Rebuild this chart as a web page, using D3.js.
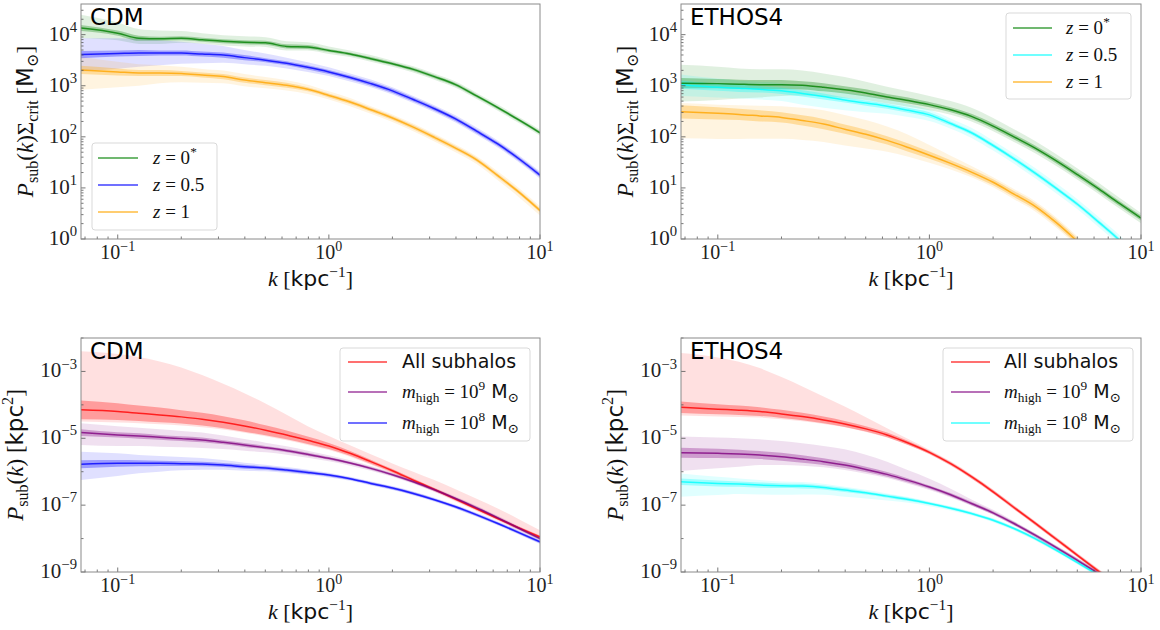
<!DOCTYPE html>
<html><head><meta charset="utf-8">
<script src="https://cdn.jsdelivr.net/npm/d3@7"></script>
<style>body{margin:0;background:#fff}svg{display:block}</style>
</head><body>
<svg id="c" width="1160" height="630"></svg>
<script>
// ---------- DATA ----------
const kValues = [0.067,0.1,0.126,0.158,0.2,0.251,0.316,0.398,0.501,0.631,0.794,1.0,1.26,1.58,2.0,2.51,3.16,3.98,5.01,6.31,7.94,10.0];
const xTicks = [0.1,1,10];
const xTickLabels = ["−1","0","1"];
const topYTicks = [1,10,100,1000,10000];
const topYTickLabels = ["0","1","2","3","4"];
const botYTicks = [1e-9,1e-7,1e-5,1e-3];
const botYTickLabels = ["−9","−7","−5","−3"];
const botYMinor = [1e-8,1e-6,1e-4,1e-2];

// top-left: CDM, P_sub * Sigma_crit [Msun]
const cdmZ0  = [13500,10700,8500,8300,8500,7940,7410,7080,6920,5890,5750,4900,4170,3390,2690,2090,1510,1050,631,372,214,120];
const cdmZ0_in = [0.06,0.05,0.05,0.04,0.04,0.04,0.04,0.04,0.04,0.04,0.04,0.03,0.03,0.03,0.03,0.03,0.03,0.03,0.03,0.03,0.03,0.03];
const cdmZ0_up = [0.26,0.21,0.18,0.16,0.14,0.13,0.12,0.12,0.11,0.10,0.09,0.08,0.07,0.07,0.06,0.06,0.06,0.06,0.06,0.06,0.06,0.06];
const cdmZ0_dn = [0.20,0.14,0.11,0.10,0.09,0.08,0.08,0.08,0.08,0.08,0.07,0.07,0.06,0.06,0.06,0.06,0.06,0.06,0.06,0.06,0.06,0.06];
const cdmZ05 = [4070,4270,4370,4370,4370,4170,3980,3550,3160,2750,2290,1860,1450,1100,794,537,355,224,129,72.4,37.2,17.8];
const cdmZ05_in = [0.07,0.06,0.06,0.05,0.05,0.05,0.05,0.05,0.04,0.04,0.04,0.04,0.04,0.04,0.04,0.04,0.04,0.04,0.04,0.04,0.04,0.04];
const cdmZ05_up = [0.32,0.30,0.28,0.25,0.22,0.20,0.18,0.15,0.13,0.11,0.10,0.09,0.08,0.08,0.07,0.07,0.07,0.07,0.07,0.07,0.07,0.07];
const cdmZ05_dn = [0.33,0.30,0.27,0.24,0.21,0.18,0.15,0.13,0.11,0.10,0.09,0.08,0.08,0.07,0.07,0.07,0.07,0.07,0.07,0.07,0.07,0.07];
const cdmZ1  = [2040,1860,1780,1780,1740,1620,1510,1290,1150,1020,851,646,479,339,234,155,97.7,60.3,35.5,17.4,8.3,3.63];
const cdmZ1_in = [0.08,0.07,0.06,0.06,0.05,0.05,0.05,0.05,0.05,0.05,0.04,0.04,0.04,0.04,0.04,0.04,0.04,0.04,0.04,0.04,0.04,0.04];
const cdmZ1_up = [0.26,0.20,0.17,0.15,0.13,0.12,0.12,0.12,0.11,0.10,0.09,0.08,0.08,0.07,0.07,0.07,0.07,0.07,0.07,0.08,0.08,0.08];
const cdmZ1_dn = [0.39,0.30,0.25,0.20,0.17,0.15,0.13,0.12,0.11,0.10,0.09,0.08,0.08,0.08,0.08,0.08,0.08,0.08,0.08,0.09,0.10,0.10];

// top-right: ETHOS4
const ethZ0  = [1120,1100,1070,1050,1050,1020,933,832,724,603,513,427,339,251,162,100,60.3,33.9,18.2,9.55,4.90,2.57];
const ethZ0_in = [0.10,0.09,0.09,0.09,0.09,0.08,0.08,0.07,0.07,0.06,0.06,0.05,0.05,0.05,0.05,0.05,0.05,0.05,0.05,0.05,0.05,0.05];
const ethZ0_up = [0.36,0.33,0.31,0.30,0.30,0.29,0.27,0.25,0.22,0.20,0.18,0.17,0.17,0.17,0.16,0.15,0.14,0.13,0.12,0.12,0.11,0.10];
const ethZ0_dn = [0.36,0.32,0.28,0.25,0.22,0.20,0.18,0.16,0.14,0.13,0.12,0.11,0.10,0.10,0.10,0.10,0.10,0.10,0.10,0.10,0.10,0.10];
const ethZ05 = [1050,933,891,851,794,708,617,525,457,398,331,269,182,120,67.6,37.2,19.5,9.77,4.79,2.14,0.933,0.355];
const ethZ05_in = [0.08,0.07,0.07,0.06,0.06,0.06,0.06,0.05,0.05,0.05,0.05,0.05,0.04,0.04,0.04,0.04,0.04,0.04,0.04,0.04,0.04,0.04];
const ethZ05_up = [0.20,0.17,0.15,0.15,0.15,0.15,0.15,0.15,0.15,0.13,0.12,0.10,0.10,0.10,0.10,0.10,0.10,0.10,0.10,0.10,0.10,0.10];
const ethZ05_dn = [0.22,0.20,0.20,0.20,0.20,0.22,0.22,0.20,0.18,0.15,0.13,0.12,0.10,0.10,0.10,0.10,0.10,0.10,0.10,0.10,0.10,0.10];
const ethZ1  = [309,288,275,257,240,209,178,141,112,85.1,61.7,43.7,30.2,20.4,12.9,7.59,4.37,2.09,0.891,0.355,0.141,0.0562];
const ethZ1_in = [0.13,0.12,0.11,0.11,0.10,0.10,0.10,0.09,0.09,0.08,0.08,0.07,0.06,0.06,0.06,0.06,0.06,0.06,0.06,0.06,0.06,0.06];
const ethZ1_up = [0.17,0.17,0.18,0.20,0.22,0.25,0.27,0.28,0.28,0.27,0.25,0.20,0.15,0.12,0.10,0.10,0.10,0.10,0.10,0.10,0.10,0.10];
const ethZ1_dn = [0.52,0.50,0.48,0.45,0.42,0.38,0.35,0.32,0.28,0.22,0.18,0.15,0.12,0.10,0.10,0.10,0.10,0.10,0.10,0.10,0.10,0.10];

// bottom-left: CDM, P_sub [kpc^2]
const cdmAll = [7.08e-5,6.31e-5,5.62e-5,5.01e-5,4.37e-5,3.72e-5,3.02e-5,2.34e-5,1.74e-5,1.26e-5,8.71e-6,5.89e-6,3.55e-6,2.0e-6,1.07e-6,5.62e-7,2.95e-7,1.51e-7,7.76e-8,3.98e-8,2.09e-8,1.12e-8];
const cdmAll_in = [0.28,0.25,0.23,0.22,0.20,0.19,0.18,0.17,0.15,0.13,0.11,0.09,0.07,0.06,0.05,0.05,0.04,0.04,0.04,0.04,0.04,0.04];
const cdmAll_up = [1.75,1.72,1.68,1.60,1.48,1.32,1.15,0.98,0.80,0.60,0.42,0.30,0.24,0.22,0.22,0.25,0.28,0.30,0.30,0.30,0.26,0.20];
const cdmAll_dn = [0.35,0.33,0.30,0.28,0.26,0.24,0.22,0.20,0.18,0.16,0.14,0.12,0.10,0.09,0.08,0.08,0.07,0.07,0.07,0.07,0.07,0.07];
const cdm1e9 = [1.48e-5,1.26e-5,1.17e-5,1.07e-5,9.77e-6,8.91e-6,7.59e-6,6.31e-6,5.25e-6,4.27e-6,3.31e-6,2.51e-6,1.82e-6,1.26e-6,8.13e-7,5.01e-7,2.88e-7,1.58e-7,8.32e-8,4.17e-8,2.04e-8,1.0e-8];
const cdm1e9_in = [0.10,0.08,0.08,0.07,0.07,0.07,0.06,0.06,0.05,0.05,0.05,0.04,0.04,0.04,0.04,0.04,0.04,0.04,0.04,0.04,0.04,0.04];
const cdm1e9_up = [0.28,0.26,0.25,0.24,0.23,0.22,0.20,0.18,0.15,0.13,0.11,0.09,0.08,0.07,0.06,0.06,0.06,0.06,0.06,0.06,0.06,0.06];
const cdm1e9_dn = [0.37,0.33,0.30,0.28,0.26,0.24,0.20,0.17,0.14,0.12,0.10,0.09,0.08,0.07,0.06,0.06,0.06,0.06,0.06,0.06,0.06,0.06];
const cdm1e8 = [1.66e-6,1.78e-6,1.78e-6,1.78e-6,1.74e-6,1.70e-6,1.58e-6,1.41e-6,1.29e-6,1.12e-6,9.55e-7,7.94e-7,6.17e-7,4.47e-7,3.24e-7,2.24e-7,1.45e-7,8.91e-8,5.13e-8,2.82e-8,1.51e-8,7.94e-9];
const cdm1e8_in = [0.12,0.10,0.09,0.08,0.07,0.07,0.06,0.06,0.05,0.05,0.05,0.04,0.04,0.04,0.04,0.04,0.04,0.04,0.04,0.04,0.04,0.04];
const cdm1e8_up = [0.38,0.30,0.25,0.22,0.20,0.18,0.15,0.12,0.10,0.09,0.08,0.07,0.06,0.06,0.06,0.06,0.06,0.06,0.06,0.06,0.06,0.06];
const cdm1e8_dn = [0.47,0.38,0.30,0.25,0.20,0.17,0.14,0.12,0.10,0.09,0.08,0.07,0.06,0.06,0.06,0.06,0.06,0.06,0.06,0.06,0.06,0.06];

// bottom-right: ETHOS4, P_sub [kpc^2]
const ethAll = [8.51e-5,7.41e-5,6.92e-5,6.31e-5,5.37e-5,4.47e-5,3.55e-5,2.69e-5,1.91e-5,1.26e-5,7.24e-6,3.80e-6,1.74e-6,7.08e-7,2.51e-7,8.51e-8,2.88e-8,9.55e-9,3.16e-9,1.05e-9,3.55e-10,1.26e-10];
const ethAll_in = [0.17,0.15,0.14,0.13,0.12,0.11,0.10,0.09,0.08,0.07,0.06,0.05,0.05,0.05,0.05,0.05,0.05,0.05,0.05,0.05,0.05,0.05];
const ethAll_up = [1.62,1.55,1.45,1.30,1.10,0.90,0.70,0.52,0.35,0.20,0.12,0.08,0.07,0.07,0.07,0.07,0.07,0.07,0.07,0.07,0.07,0.07];
const ethAll_dn = [0.25,0.22,0.20,0.18,0.16,0.14,0.12,0.10,0.09,0.08,0.07,0.06,0.06,0.06,0.06,0.06,0.06,0.06,0.06,0.06,0.06,0.06];
const eth1e9 = [3.72e-6,3.55e-6,3.39e-6,3.16e-6,2.82e-6,2.40e-6,2.0e-6,1.58e-6,1.17e-6,8.32e-7,5.50e-7,3.47e-7,2.04e-7,1.12e-7,5.89e-8,2.82e-8,1.26e-8,5.37e-9,2.24e-9,8.91e-10,3.55e-10,1.41e-10];
const eth1e9_in = [0.15,0.14,0.13,0.12,0.12,0.11,0.10,0.09,0.08,0.07,0.06,0.05,0.05,0.05,0.05,0.05,0.05,0.05,0.05,0.05,0.05,0.05];
const eth1e9_up = [0.48,0.47,0.47,0.47,0.47,0.47,0.47,0.47,0.44,0.38,0.30,0.25,0.18,0.12,0.09,0.07,0.06,0.06,0.06,0.06,0.06,0.06];
const eth1e9_dn = [0.55,0.45,0.38,0.30,0.25,0.20,0.17,0.15,0.13,0.11,0.10,0.09,0.08,0.07,0.06,0.06,0.06,0.06,0.06,0.06,0.06,0.06];
const eth1e8 = [5.01e-7,4.47e-7,4.27e-7,3.98e-7,3.80e-7,3.72e-7,3.39e-7,2.82e-7,2.34e-7,1.86e-7,1.48e-7,1.12e-7,8.13e-8,5.62e-8,3.55e-8,2.0e-8,1.0e-8,4.47e-9,1.91e-9,7.94e-10,3.16e-10,1.26e-10];
const eth1e8_in = [0.10,0.09,0.08,0.08,0.07,0.07,0.06,0.06,0.05,0.05,0.05,0.04,0.04,0.04,0.04,0.04,0.04,0.04,0.04,0.04,0.04,0.04];
const eth1e8_up = [0.25,0.20,0.17,0.15,0.13,0.12,0.11,0.10,0.09,0.08,0.07,0.06,0.06,0.06,0.06,0.06,0.06,0.06,0.06,0.06,0.06,0.06];
const eth1e8_dn = [0.45,0.35,0.30,0.28,0.27,0.25,0.22,0.20,0.17,0.13,0.10,0.08,0.07,0.06,0.06,0.06,0.06,0.06,0.06,0.06,0.06,0.06];

// ---------- DRAWING ----------
const SERIF = "'Liberation Serif','DejaVu Serif',serif";
const SANS = "'DejaVu Sans','Open Sans',sans-serif";
const svg = d3.select("#c");

const zLabels = [
  [{t:"z",i:1},{t:" = 0"},{t:"*",sup:1}],
  [{t:"z",i:1},{t:" = 0.5"}],
  [{t:"z",i:1},{t:" = 1"}]
];
const mLabels = [
  [{t:"All subhalos",sans:1}],
  [{t:"m",i:1},{t:"high",sub:1},{t:" = 10"},{t:"9",sup:1},{t:" M",sans:1},{t:"⊙",sub:1}],
  [{t:"m",i:1},{t:"high",sub:1},{t:" = 10"},{t:"8",sup:1},{t:" M",sans:1},{t:"⊙",sub:1}]
];

const panels = [
  {x:81,y:4,w:459,h:235,yDom:[1,10**4.6],title:"CDM",ylab:"top",yTicks:topYTicks,yTickLab:topYTickLabels,yMinorSub:true,
   series:[{v:cdmZ0,i:cdmZ0_in,u:cdmZ0_up,d:cdmZ0_dn,c:"green"},{v:cdmZ05,i:cdmZ05_in,u:cdmZ05_up,d:cdmZ05_dn,c:"blue"},{v:cdmZ1,i:cdmZ1_in,u:cdmZ1_up,d:cdmZ1_dn,c:"orange"}],
   leg:{x0:92,y0:143,x1:217,y1:230,rows:[158,185,212],lx0:98,lx1:138,tx:153,labels:zLabels,fs:19}},
  {x:681,y:4,w:460,h:235,yDom:[1,10**4.6],title:"ETHOS4",ylab:"top",yTicks:topYTicks,yTickLab:topYTickLabels,yMinorSub:true,
   series:[{v:ethZ0,i:ethZ0_in,u:ethZ0_up,d:ethZ0_dn,c:"green"},{v:ethZ05,i:ethZ05_in,u:ethZ05_up,d:ethZ05_dn,c:"cyan"},{v:ethZ1,i:ethZ1_in,u:ethZ1_up,d:ethZ1_dn,c:"orange"}],
   leg:{x0:1006,y0:13,x1:1131,y1:99,rows:[28,55,82],lx0:1013,lx1:1052,tx:1066,labels:zLabels,fs:19}},
  {x:81,y:338,w:459,h:234,yDom:[1e-9,1e-2],title:"CDM",ylab:"bot",yTicks:botYTicks,yTickLab:botYTickLabels,yMinorSub:false,
   series:[{v:cdmAll,i:cdmAll_in,u:cdmAll_up,d:cdmAll_dn,c:"red"},{v:cdm1e9,i:cdm1e9_in,u:cdm1e9_up,d:cdm1e9_dn,c:"purple"},{v:cdm1e8,i:cdm1e8_in,u:cdm1e8_up,d:cdm1e8_dn,c:"blue"}],
   leg:{x0:340,y0:348,x1:530,y1:441,rows:[362,392,423],lx0:348,lx1:387,tx:402,labels:mLabels,fs:19}},
  {x:681,y:338,w:460,h:234,yDom:[1e-9,1e-2],title:"ETHOS4",ylab:"bot",yTicks:botYTicks,yTickLab:botYTickLabels,yMinorSub:false,
   series:[{v:ethAll,i:ethAll_in,u:ethAll_up,d:ethAll_dn,c:"red"},{v:eth1e9,i:eth1e9_in,u:eth1e9_up,d:eth1e9_dn,c:"purple"},{v:eth1e8,i:eth1e8_in,u:eth1e8_up,d:eth1e8_dn,c:"cyan"}],
   leg:{x0:943,y0:348,x1:1133,y1:441,rows:[362,392,423],lx0:951,lx1:990,tx:1004,labels:mLabels,fs:19}}
];

function richText(sel, parts, fs){
  let shift = 0;
  parts.forEach(p=>{
    const ts = sel.append("tspan").text(p.t);
    let target = 0, size = fs;
    if(p.sup){target=-0.42*fs; size=0.7*fs;}
    if(p.sub){target=0.22*fs; size=0.7*fs;}
    ts.attr("dy", target-shift).attr("font-size", size);
    shift = target;
    if(p.i) ts.attr("font-style","italic");
    if(p.sans) ts.attr("font-family", SANS);
  });
}

panels.forEach((P,pi)=>{
  const g = svg.append("g").attr("transform",`translate(${P.x},${P.y})`);
  const x = d3.scaleLog().domain([0.067,10]).range([0,P.w]);
  const y = d3.scaleLog().domain(P.yDom).range([P.h,0]);
  const cid = "clip"+pi;
  g.append("clipPath").attr("id",cid).append("rect").attr("width",P.w).attr("height",P.h);
  const plot = g.append("g").attr("clip-path",`url(#${cid})`);

  const idx = d3.range(kValues.length);
  P.series.forEach(s=>{
    const outer = d3.area().curve(d3.curveMonotoneX)
      .x(i=>x(kValues[i])).y0(i=>y(s.v[i]/Math.pow(10,s.d[i]))).y1(i=>y(s.v[i]*Math.pow(10,s.u[i])));
    plot.append("path").datum(idx).attr("d",outer).attr("fill",s.c).attr("fill-opacity",0.12);
  });
  P.series.forEach(s=>{
    const inner = d3.area().curve(d3.curveMonotoneX)
      .x(i=>x(kValues[i])).y0(i=>y(s.v[i]/Math.pow(10,s.i[i]))).y1(i=>y(s.v[i]*Math.pow(10,s.i[i])));
    plot.append("path").datum(idx).attr("d",inner).attr("fill",s.c).attr("fill-opacity",0.3);
  });
  P.series.forEach(s=>{
    const line = d3.line().curve(d3.curveMonotoneX).x(i=>x(kValues[i])).y(i=>y(s.v[i]));
    plot.append("path").datum(idx).attr("d",line).attr("fill","none").attr("stroke",s.c).attr("stroke-width",1.5).attr("stroke-opacity",0.8);
  });

  // ticks (inward)
  const tk = g.append("g").attr("stroke","#555").attr("stroke-width",0.8);
  const xMinor = [];
  [0.01,0.1,1].forEach(d=>{for(let m=2;m<=9;m++){const v=d*m; if(v>=0.067&&v<=10) xMinor.push(v);}});
  xMinor.forEach(v=>tk.append("line").attr("x1",x(v)).attr("x2",x(v)).attr("y1",P.h).attr("y2",P.h-2.5));
  xTicks.forEach(v=>tk.append("line").attr("x1",x(v)).attr("x2",x(v)).attr("y1",P.h).attr("y2",P.h-4.5));
  if(P.yMinorSub){
    [1,10,100,1000,10000].forEach(d=>{for(let m=2;m<=9;m++){const v=d*m; if(v<=P.yDom[1]) tk.append("line").attr("x1",0).attr("x2",2.5).attr("y1",y(v)).attr("y2",y(v));}});
  } else {
    botYMinor.forEach(v=>tk.append("line").attr("x1",0).attr("x2",2.5).attr("y1",y(v)).attr("y2",y(v)));
  }
  P.yTicks.forEach(v=>tk.append("line").attr("x1",0).attr("x2",4.5).attr("y1",y(v)).attr("y2",y(v)));

  // frame
  g.append("rect").attr("width",P.w).attr("height",P.h).attr("fill","none").attr("stroke","#8a8a8a").attr("stroke-width",1);

  // tick labels
  xTicks.forEach((v,j)=>{
    const t = g.append("text").attr("x",x(v)).attr("y",P.h+20).attr("text-anchor","middle").attr("font-family",SERIF).attr("fill","#222");
    richText(t,[{t:"10"},{t:xTickLabels[j],sup:1}],20);
  });
  P.yTicks.forEach((v,j)=>{
    const t = g.append("text").attr("x",-4).attr("y",y(v)+6).attr("text-anchor","end").attr("font-family",SERIF).attr("fill","#222");
    richText(t,[{t:"10"},{t:P.yTickLab[j],sup:1}],21);
  });

  // title
  g.append("text").attr("x",9).attr("y",21).attr("font-family",SANS).attr("font-size",23).attr("fill","#000").text(P.title);

  // x label
  const xl = g.append("text").attr("x",P.w/2).attr("y",P.h+47).attr("text-anchor","middle").attr("font-family",SERIF).attr("fill","#111");
  richText(xl,[{t:"k",i:1},{t:" ["},{t:"kpc",sans:1},{t:"−1",sup:1},{t:"]"}],22);

  // y label
  const ylx = P.ylab==="top" ? -48 : -58;
  const yl = g.append("text").attr("transform",`translate(${ylx},${P.h/2}) rotate(-90)`).attr("text-anchor","middle").attr("font-family",SERIF).attr("fill","#111");
  if(P.ylab==="top"){
    richText(yl,[{t:"P",i:1},{t:"sub",sub:1},{t:"("},{t:"k",i:1},{t:")Σ"},{t:"crit",sub:1},{t:" ["},{t:"M",sans:1},{t:"⊙",sub:1},{t:"]"}],23);
  } else {
    richText(yl,[{t:"P",i:1},{t:"sub",sub:1},{t:"("},{t:"k",i:1},{t:")  ["},{t:"kpc",sans:1},{t:"2",sup:1},{t:"]"}],23);
  }

  // legend
  const L = P.leg;
  svg.append("rect").attr("x",L.x0).attr("y",L.y0).attr("width",L.x1-L.x0).attr("height",L.y1-L.y0)
    .attr("rx",3).attr("fill","#fff").attr("fill-opacity",0.8).attr("stroke","#d9d9d9").attr("stroke-width",1);
  P.series.forEach((s,j)=>{
    svg.append("line").attr("x1",L.lx0).attr("x2",L.lx1).attr("y1",L.rows[j]).attr("y2",L.rows[j])
      .attr("stroke",s.c).attr("stroke-width",1.5).attr("stroke-opacity",0.75);
    const t = svg.append("text").attr("x",L.tx).attr("y",L.rows[j]+6).attr("font-family",SERIF).attr("fill","#111");
    richText(t,L.labels[j],L.fs);
  });
});
</script>
</body></html>
